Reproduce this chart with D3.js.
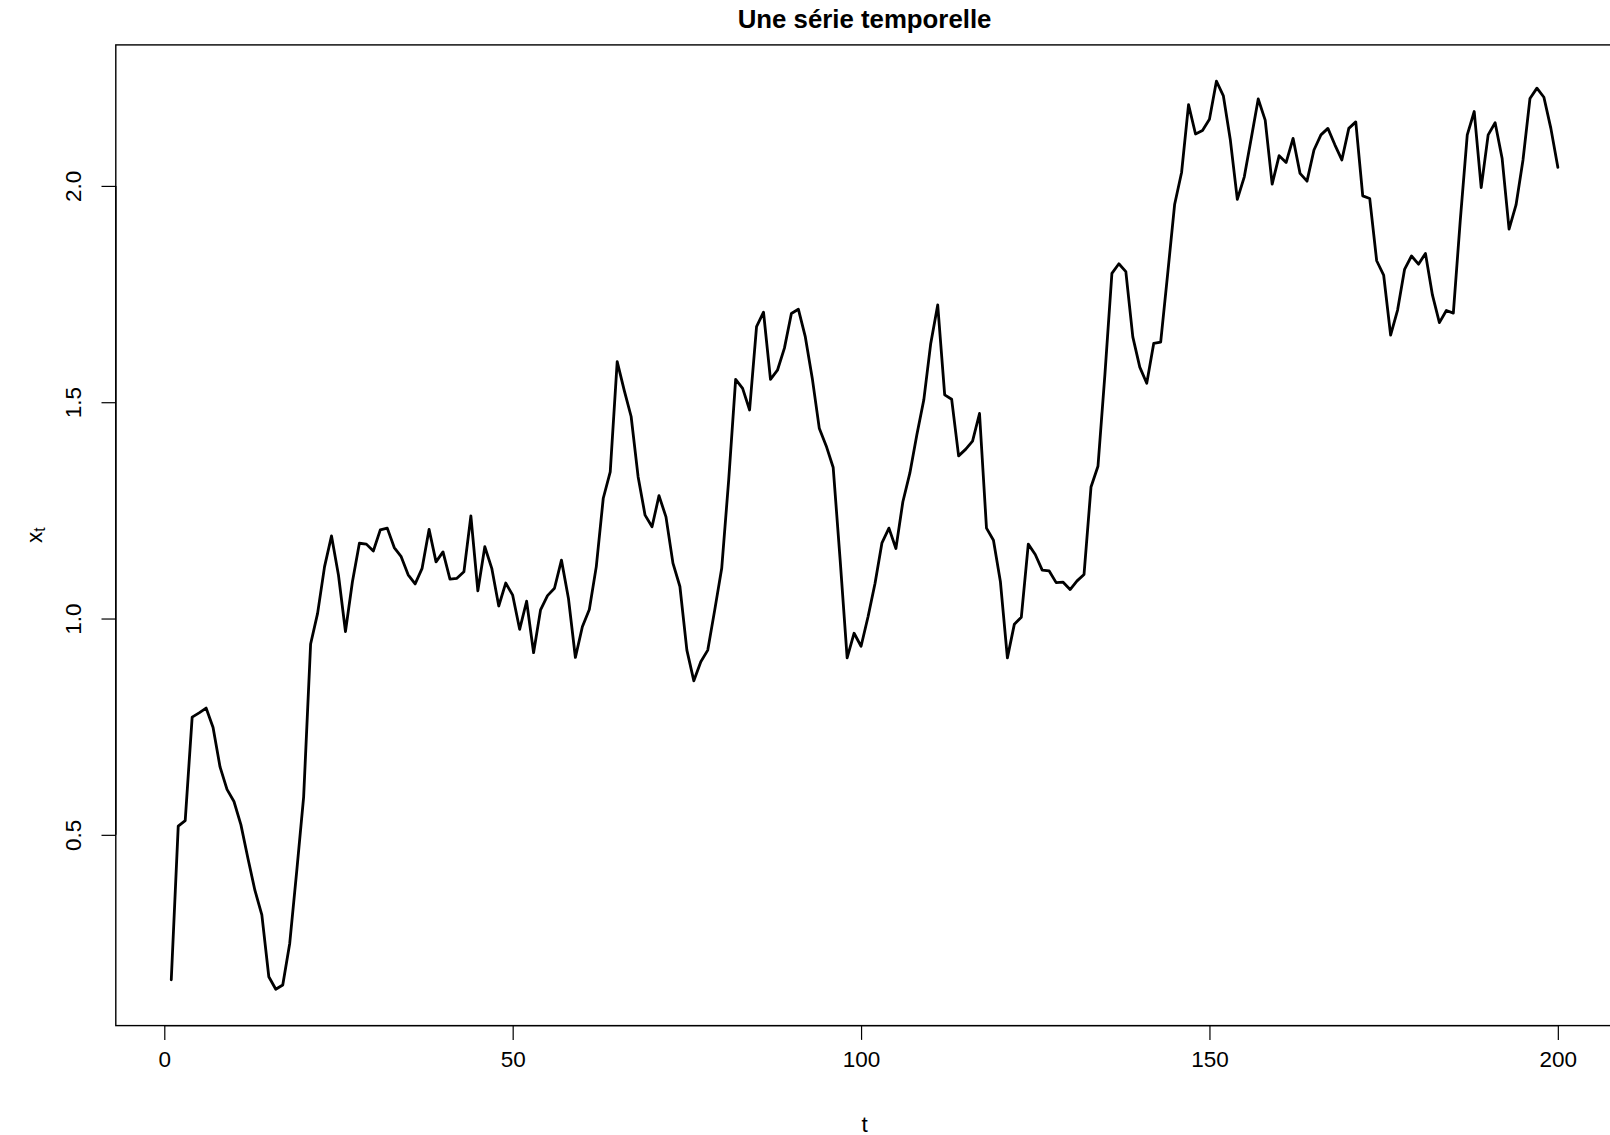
<!DOCTYPE html>
<html>
<head>
<meta charset="utf-8">
<script src="https://cdn.jsdelivr.net/npm/d3@7"></script>
<style>
  html, body { margin: 0; padding: 0; background: #fff; }
  svg { display: block; }
  text { font-family: "Liberation Sans", Arial, Helvetica, sans-serif; fill: #000; }
</style>
</head>
<body>
<script>
// Series x_t observed at t = 1..200
const values = [
  0.165, 0.520, 0.533, 0.772, 0.782, 0.793, 0.748, 0.657, 0.605, 0.577,
  0.523, 0.446, 0.372, 0.315, 0.172, 0.143, 0.153, 0.249, 0.415, 0.588,
  0.941, 1.012, 1.120, 1.191, 1.100, 0.970, 1.085, 1.174, 1.172, 1.156,
  1.205, 1.209, 1.164, 1.143, 1.101, 1.080, 1.116, 1.206, 1.131, 1.154,
  1.091, 1.093, 1.108, 1.237, 1.064, 1.166, 1.116, 1.029, 1.082, 1.054,
  0.975, 1.040, 0.921, 1.020, 1.053, 1.070, 1.135, 1.047, 0.910, 0.981,
  1.021, 1.120, 1.278, 1.339, 1.594, 1.528, 1.467, 1.328, 1.239, 1.212,
  1.284, 1.235, 1.128, 1.074, 0.927, 0.856, 0.900, 0.927, 1.020, 1.116,
  1.320, 1.553, 1.532, 1.482, 1.675, 1.708, 1.553, 1.574, 1.625, 1.705,
  1.715, 1.651, 1.555, 1.440, 1.399, 1.349, 1.135, 0.909, 0.966, 0.936,
  1.004, 1.081, 1.175, 1.209, 1.162, 1.270, 1.336, 1.424, 1.505, 1.636,
  1.725, 1.517, 1.507, 1.376, 1.391, 1.410, 1.474, 1.209, 1.181, 1.085,
  0.909, 0.987, 1.003, 1.172, 1.148, 1.112, 1.110, 1.083, 1.084, 1.067,
  1.087, 1.102, 1.304, 1.352, 1.565, 1.798, 1.820, 1.802, 1.651, 1.581,
  1.544, 1.636, 1.639, 1.796, 1.957, 2.031, 2.188, 2.120, 2.128, 2.154,
  2.242, 2.208, 2.106, 1.969, 2.021, 2.110, 2.201, 2.152, 2.004, 2.070,
  2.054, 2.110, 2.029, 2.011, 2.083, 2.118, 2.133, 2.095, 2.060, 2.133,
  2.148, 1.977, 1.971, 1.827, 1.794, 1.655, 1.713, 1.807, 1.838, 1.819,
  1.844, 1.748, 1.684, 1.712, 1.706, 1.921, 2.118, 2.172, 1.996, 2.118,
  2.146, 2.064, 1.900, 1.956, 2.060, 2.202, 2.226, 2.205, 2.133, 2.043
];
const times = values.map((_, i) => i + 1);

const xTicks = [0, 50, 100, 150, 200];
const yTicks = [0.5, 1.0, 1.5, 2.0];
const yTickLabels = ["0.5", "1.0", "1.5", "2.0"];

const title = "Une série temporelle";
const xLabel = "t";

const W = 1610, H = 1135;
const plot = { left: 115.8, right: 1613.3, top: 44.9, bottom: 1025.6 };

// Axis ranges padded by 4% on each side
function padded(ext) {
  const d = (ext[1] - ext[0]) * 0.04;
  return [ext[0] - d, ext[1] + d];
}

const x = d3.scaleLinear().domain(padded(d3.extent(times))).range([plot.left, plot.right]);
const y = d3.scaleLinear().domain(padded(d3.extent(values))).range([plot.bottom, plot.top]);

const svg = d3.select("body").append("svg")
  .attr("width", W).attr("height", H)
  .attr("viewBox", `0 0 ${W} ${H}`);

// Series line
const line = d3.line().x((d, i) => x(times[i])).y(d => y(d));
svg.append("path")
  .datum(values)
  .attr("d", line)
  .attr("fill", "none")
  .attr("stroke", "#000")
  .attr("stroke-width", 2.8)
  .attr("stroke-linejoin", "round")
  .attr("stroke-linecap", "round");

// Plot frame
svg.append("rect")
  .attr("x", plot.left).attr("y", plot.top)
  .attr("width", plot.right - plot.left).attr("height", plot.bottom - plot.top)
  .attr("fill", "none").attr("stroke", "#000").attr("stroke-width", 1.4);

const tickLen = 14.3;
const fontSize = 22.5;

// Bottom axis
const xAxis = d3.axisBottom(x).tickValues(xTicks).tickSize(tickLen).tickPadding(11).tickSizeOuter(0);
const gx = svg.append("g").attr("transform", `translate(0,${plot.bottom})`).call(xAxis);
gx.select(".domain").attr("d", `M${x(xTicks[0])},0H${x(xTicks[xTicks.length - 1])}`)
  .attr("stroke", "#000").attr("stroke-width", 1.4);
gx.selectAll(".tick line").attr("stroke", "#000").attr("stroke-width", 1.2);
gx.selectAll(".tick text")
  .attr("font-size", fontSize)
  .attr("font-family", "Liberation Sans, Arial, sans-serif")
  .attr("fill", "#000");

// Left axis, labels written vertically
const yAxis = d3.axisLeft(y).tickValues(yTicks).tickSize(tickLen).tickSizeOuter(0)
  .tickFormat((d, i) => yTickLabels[i]);
const gy = svg.append("g").attr("transform", `translate(${plot.left},0)`).call(yAxis);
gy.select(".domain").attr("d", `M0,${y(yTicks[0])}V${y(yTicks[yTicks.length - 1])}`)
  .attr("stroke", "#000").attr("stroke-width", 1.4);
gy.selectAll(".tick line").attr("stroke", "#000").attr("stroke-width", 1.2);
gy.selectAll(".tick text")
  .attr("font-size", fontSize)
  .attr("font-family", "Liberation Sans, Arial, sans-serif")
  .attr("fill", "#000")
  .attr("x", null).attr("dy", null)
  .attr("text-anchor", "middle")
  .attr("dominant-baseline", "central")
  .attr("transform", "translate(-42,0) rotate(-90)");

// Title
svg.append("text")
  .attr("x", (plot.left + plot.right) / 2)
  .attr("y", 18.5)
  .attr("text-anchor", "middle")
  .attr("dominant-baseline", "central")
  .attr("font-weight", "bold")
  .attr("font-size", 25.8)
  .text(title);

// Axis titles
svg.append("text")
  .attr("x", (plot.left + plot.right) / 2)
  .attr("y", 1124)
  .attr("text-anchor", "middle")
  .attr("dominant-baseline", "central")
  .attr("font-size", fontSize)
  .text(xLabel);

const yl = svg.append("text")
  .attr("transform", `translate(34,${(plot.top + plot.bottom) / 2}) rotate(-90)`)
  .attr("text-anchor", "middle")
  .attr("dominant-baseline", "central")
  .attr("font-size", fontSize);
yl.append("tspan").text("x");
yl.append("tspan").attr("font-size", fontSize * 0.7).attr("dy", 5).text("t");
</script>
</body>
</html>
